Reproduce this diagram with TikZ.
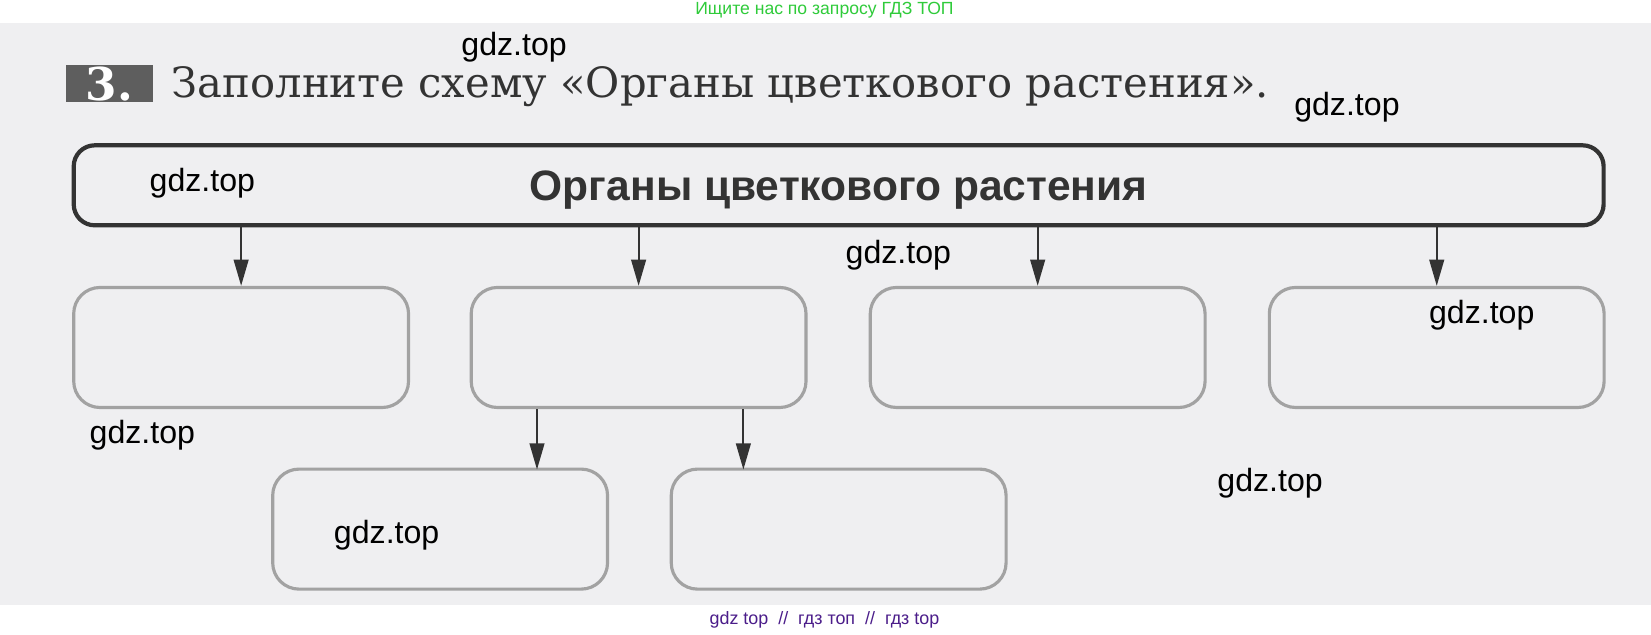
\documentclass[tikz,border=0pt]{standalone}
\usepackage{fontspec}
\setmainfont{DejaVu Serif}
\newfontfamily\wmfont{Liberation Sans}
\usetikzlibrary{arrows.meta}
\definecolor{paper}{HTML}{EFEFF1}
\definecolor{ink}{HTML}{333333}
\definecolor{boxgray}{HTML}{A2A2A2}
\definecolor{numgray}{HTML}{5E5E5E}
\definecolor{wmgreen}{HTML}{2FCB3A}
\definecolor{wmpurple}{HTML}{4B1D8A}
\tikzset{
  topbox/.style={draw=ink, line width=4pt, rounded corners=20pt, minimum width=1453pt, minimum height=76pt, inner sep=0pt},
  cellbox/.style={draw=boxgray, line width=3pt, rounded corners=25pt, minimum width=318pt, minimum height=114pt, inner sep=0pt},
  arr/.style={draw=ink, line width=2pt, -{Triangle[length=25pt,width=14pt]}},
  wm/.style={anchor=west, inner sep=0pt, text=black, font=\wmfont\fontsize{30.5}{34}\selectfont},
}
\begin{document}
\begin{tikzpicture}[x=1pt,y=-1pt]
\useasboundingbox (0,0) rectangle (1568,603);
\fill[white] (0,0) rectangle (1568,603);
\fill[paper] (0,22) rectangle (1568,575);
% header watermark
\node[inner sep=0pt, text=wmgreen, font=\wmfont\fontsize{16.7}{18}\selectfont] (hdr) at (783,10) {Ищите нас по запросу ГДЗ ТОП};
% task number and title
\node[fill=numgray, minimum width=82pt, minimum height=35pt, inner sep=0pt, text=white, font=\bfseries\fontsize{43}{44}\selectfont, text height=31pt, text depth=0pt] (num) at (104,79.5) {3.};
\node[anchor=base west, inner sep=0pt, text=ink, font=\fontsize{39.6}{44}\selectfont] (title) at (163,93) {Заполните схему «Органы цветкового растения».};
% main box
\node[topbox, text=ink, font=\wmfont\bfseries\fontsize{40.4}{44}\selectfont, text height=29pt, text depth=0pt] (top) at (796.5,176) {Органы цветкового растения};
% first row
\node[cellbox] (b1) at (229,330) {};
\node[cellbox] (b2) at (606.5,330) {};
\node[cellbox] (b3) at (985.5,330) {};
\node[cellbox] (b4) at (1364.5,330) {};
% second row
\node[cellbox] (b5) at (418,502.5) {};
\node[cellbox] (b6) at (796.5,502.5) {};
\coordinate (c5) at (510,446);
\coordinate (c6) at (706,446);
% arrows
\foreach \b in {b1,b2,b3,b4}{
  \draw[arr] (\b.north |- top.south) -- (\b.north);
}
\draw[arr] (b2.south -| c5) -- (c5);
\draw[arr] (b2.south -| c6) -- (c6);
% watermarks
\node[wm] (w1) at (438,45) {gdz.top};
\node[wm] (w2) at (1229,102) {gdz.top};
\node[wm] (w3) at (142,174) {gdz.top};
\node[wm] (w4) at (803,242) {gdz.top};
\node[wm] (w5) at (1357,299) {gdz.top};
\node[wm] (w6) at (85,413) {gdz.top};
\node[wm] (w7) at (1156,459) {gdz.top};
\node[wm] (w8) at (317,508) {gdz.top};
\node[inner sep=0pt, text=wmpurple, font=\wmfont\fontsize{17}{20}\selectfont] (ftr) at (783,589) {gdz top \ // \ гдз топ \ // \ гдз top};
\end{tikzpicture}
\end{document}
